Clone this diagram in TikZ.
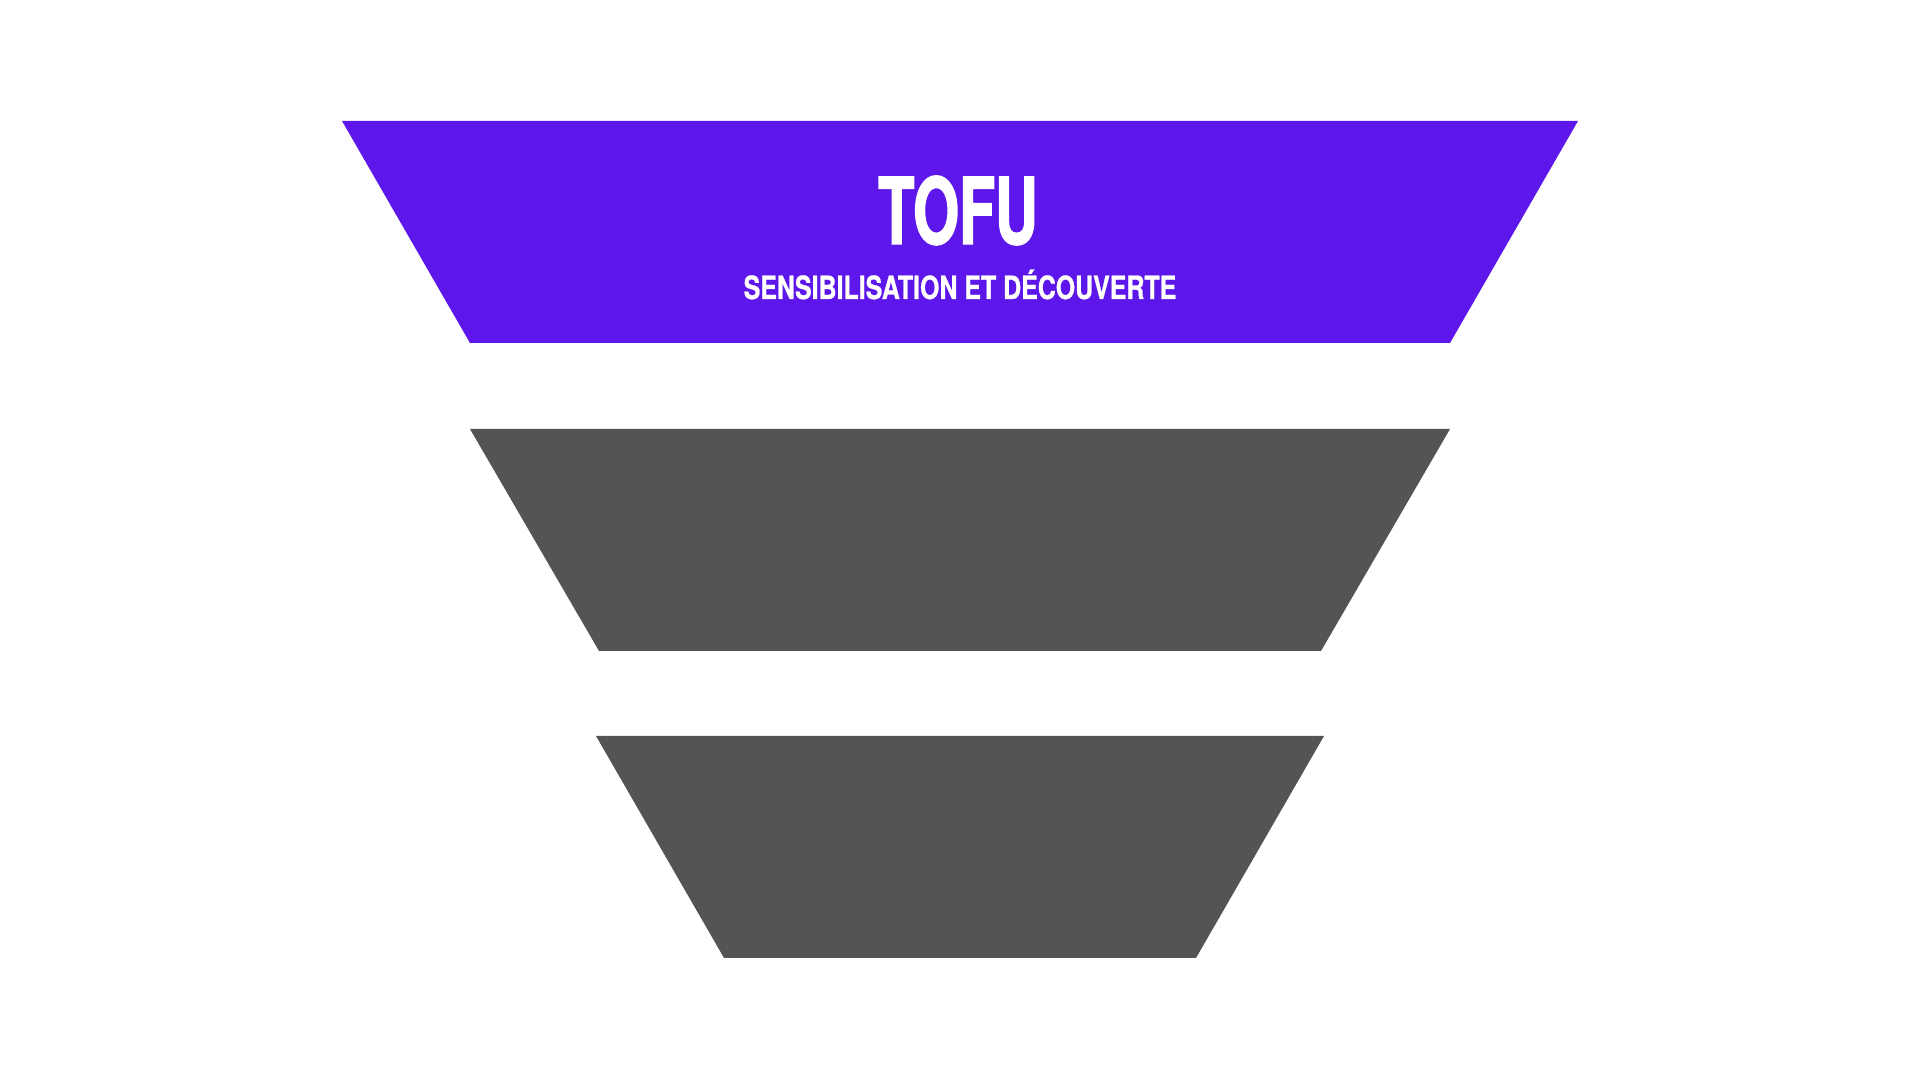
\documentclass[tikz,border=0pt]{standalone}
\usepackage{fontspec}
\usepackage{tikz}
\newfontfamily\tofutitlefont{TeX Gyre Heros}[FakeStretch=0.64,BoldFeatures={FakeBold=1.6}]
\newfontfamily\tofusubfont{TeX Gyre Heros}[FakeStretch=0.78,BoldFeatures={FakeBold=0.8}]
\definecolor{funnelpurple}{HTML}{5E17EB}
\definecolor{funnelgrey}{HTML}{545454}

\begin{document}
\begin{tikzpicture}[scale=1]
                \useasboundingbox (0,0) rectangle (19.2,10.8);
                \fill[funnelpurple] (3.42,9.59) -- (15.78,9.59) -- (14.50,7.37) -- (4.70,7.37) -- cycle;
                \fill[funnelgrey] (4.70,6.51) -- (14.50,6.51) -- (13.21,4.29) -- (5.99,4.29) -- cycle;
                \fill[funnelgrey] (5.96,3.44) -- (13.24,3.44) -- (11.96,1.22) -- (7.24,1.22) -- cycle;
                \node[anchor=base,text=white,inner sep=0pt,font=\tofutitlefont\fontsize{26.2}{28}\selectfont\bfseries] (tofu) at (9.58,8.36) {TOFU};
                \node[anchor=base,text=white,inner sep=0pt,font=\tofusubfont\fontsize{9.1}{11}\selectfont\bfseries] (tofusub) at (9.6,7.81) {SENSIBILISATION ET DÉCOUVERTE};
            \end{tikzpicture}
\end{document}
